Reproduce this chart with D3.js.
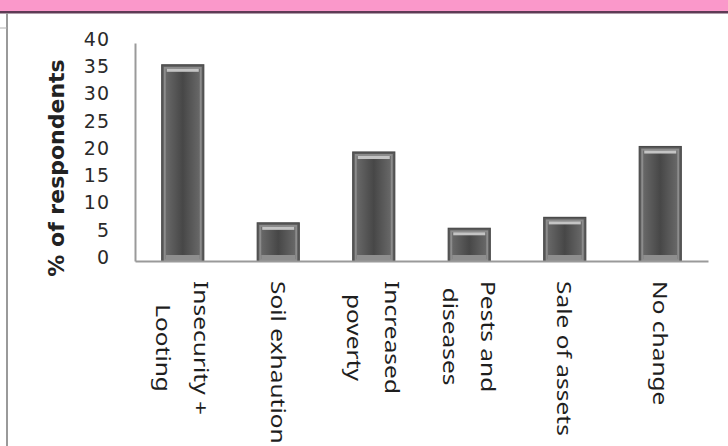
<!DOCTYPE html>
<html>
<head>
<meta charset="utf-8">
<script src="https://cdn.jsdelivr.net/npm/d3@7"></script>
<style>
  body { margin: 0; background: #fff; }
  svg { display: block; }
</style>
</head>
<body>
<div id="chart"></div>
<script>
// values
const categories = ['Insecurity + Looting', 'Soil exhaution', 'Increased poverty',
  'Pests and diseases', 'Sale of assets', 'No change']
const labelLines = [['Insecurity +', 'Looting'], ['Soil exhaution'], ['Increased', 'poverty'],
  ['Pests and', 'diseases'], ['Sale of assets'], ['No change']]
const values = [36, 7, 20, 6, 8, 21]
const yTicks = [0, 5, 10, 15, 20, 25, 30, 35, 40]
const yTitle = '% of respondents'

const W = 728, H = 446
const svg = d3.select('#chart').append('svg')
  .attr('width', W).attr('height', H)

// the slide frame bits round the chart
svg.append('rect').attr('x', 0).attr('y', 0).attr('width', W).attr('height', 12).attr('fill', '#fa98ca')
svg.append('rect').attr('x', 0).attr('y', 11).attr('width', W).attr('height', 2.5).attr('fill', '#5e3a55')
svg.append('line').attr('x1', 7).attr('x2', 7).attr('y1', 13).attr('y2', H)
  .attr('stroke', '#9a9a9a').attr('stroke-width', 2)
svg.append('line').attr('x1', 0).attr('x2', 7).attr('y1', 28).attr('y2', 28)
  .attr('stroke', '#b0b0b0').attr('stroke-width', 1)

// scales
const x = d3.scaleBand().domain(categories).range([135, 708])
  .paddingInner(0.56).paddingOuter(0.28)
const y = d3.scaleLinear().domain([0, 40]).range([261, 43])

// gradient for the bar body
const defs = svg.append('defs')
const grad = defs.append('linearGradient').attr('id', 'barGrad')
  .attr('x1', '0%').attr('x2', '100%').attr('y1', '0%').attr('y2', '0%')
grad.append('stop').attr('offset', '0%').attr('stop-color', '#6a6a6a')
grad.append('stop').attr('offset', '50%').attr('stop-color', '#474747')
grad.append('stop').attr('offset', '100%').attr('stop-color', '#6a6a6a')

// y axis
const yAxis = svg.append('g')
  .attr('transform', 'translate(135,0)')
  .call(d3.axisLeft(y).tickValues(yTicks).tickSize(0).tickPadding(25))
yAxis.select('.domain').attr('stroke', '#9a9a9a').attr('stroke-width', 2)
yAxis.selectAll('text')
  .attr('font-family', 'DejaVu Sans').attr('font-size', 19)
  .attr('fill', '#2a2a2a').attr('letter-spacing', 1)
  .attr('dy', '0.12em')

// y title
svg.append('text')
  .attr('transform', 'translate(64,168) rotate(-90)')
  .attr('text-anchor', 'middle')
  .attr('font-family', 'DejaVu Sans').attr('font-weight', 'bold').attr('font-size', 22)
  .attr('fill', '#222')
  .text(yTitle)

// bars
const bars = svg.append('g').selectAll('g').data(values).join('g')
  .attr('transform', (d, i) => `translate(${x(categories[i])},0)`)
const bw = x.bandwidth()
bars.append('rect')
  .attr('x', 0).attr('y', d => y(d)).attr('width', bw).attr('height', d => y(0) - y(d))
  .attr('fill', '#5a5a5a').attr('stroke', '#4a4a4a').attr('stroke-width', 1.2)
bars.append('rect')
  .attr('x', 3).attr('y', d => y(d) + 3).attr('width', bw - 6).attr('height', d => y(0) - y(d) - 4)
  .attr('fill', 'url(#barGrad)').attr('stroke', '#8c8c8c').attr('stroke-width', 2)
bars.append('rect')
  .attr('x', 5).attr('y', d => y(d) + 4).attr('width', bw - 10).attr('height', 3)
  .attr('fill', '#c4c4c4')
bars.append('rect')
  .attr('x', 4).attr('y', y(0) - 6).attr('width', bw - 8).attr('height', 5)
  .attr('fill', '#8e8e8e')

// x axis
const xAxis = svg.append('g')
  .attr('transform', 'translate(0,261)')
  .call(d3.axisBottom(x).tickSize(0).tickSizeOuter(0).tickFormat(''))
xAxis.select('.domain').attr('stroke', '#9a9a9a').attr('stroke-width', 2)

// rotated category labels, lines centred in a block that starts under the axis
const squash = 0.85
const lineGap = 38 / squash
const labels = svg.append('g').selectAll('text').data(labelLines).join('text')
  .attr('font-family', 'Noto Sans').attr('font-size', 24.5).attr('fill', '#1e1e1e')
  .attr('text-anchor', 'middle')
labels.each(function(lines, i) {
  const t = d3.select(this)
  const n = lines.length
  lines.forEach((ln, j) => {
    t.append('tspan').attr('x', 0)
      .attr('y', (j - (n - 1) / 2) * lineGap)
      .attr('dy', '0.35em')
      .text(ln)
  })
  const maxLen = d3.max(t.selectAll('tspan').nodes(), nd => nd.getComputedTextLength())
  t.selectAll('tspan').attr('x', maxLen / 2)
  const cx = x(categories[i]) + bw / 2
  t.attr('transform', `translate(${cx},281) rotate(90) scale(1,${squash})`)
})
</script>
</body>
</html>
